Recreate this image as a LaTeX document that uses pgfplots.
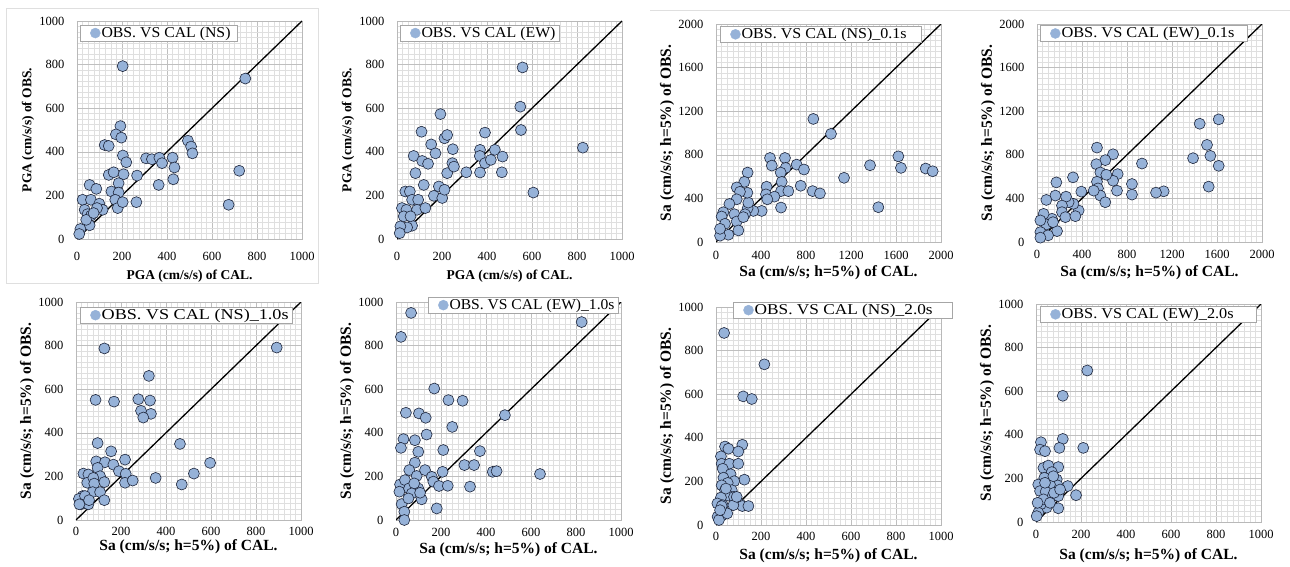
\documentclass[border=0pt]{standalone}
\usepackage{fontspec}
\setmainfont{Liberation Serif}
\usepackage{graphicx}
\usepackage{pgfplots}
\pgfplotsset{compat=1.18}
\definecolor{mfill}{RGB}{150,178,216}
\definecolor{medge}{RGB}{30,38,60}
\newcommand{\lgent}[3]{\makebox[#1][l]{\resizebox{#2}{\height}{#3}}}
\pgfplotsset{
 panel/.style={
  scale only axis, width=225pt, height=218pt, anchor=south west,
  xmin=0, ymin=0,
  grid=both,
  major grid style={draw=gray!50, line width=0.5pt},
  minor grid style={draw=gray!25, line width=0.4pt},
  minor tick num=7,
  major tick length=0pt, minor tick length=0pt,
  axis line style={draw=gray!55, line width=0.5pt},
  tick label style={font=\fontsize{12.5}{13}\selectfont},
  /pgf/number format/assume math mode=true,
  /pgf/number format/1000 sep={},
  yticklabel style={xshift=-9pt},
  y label style={at={(axis description cs:-0.218,0.5)}, anchor=center},
  legend style={draw=gray!70, fill=white, font=\fontsize{15}{16}\selectfont,
    anchor=north west, inner xsep=3pt, inner ysep=0.5pt, legend cell align=left,
    nodes={inner xsep=1pt, inner ysep=1.5pt}},
  legend image code/.code={\path (-12pt,0pt) (5pt,0pt); \fill[mfill] (0pt,0pt) circle (5pt);},
 },
 off/.style 2 args={xticklabel style={yshift=#1},
   x label style={at={(axis description cs:0.5,0)}, anchor=center, yshift=#2}},
 pga/.style={label style={font=\bfseries\fontsize{13.5}{15}\selectfont}},
 sa/.style={label style={font=\bfseries\fontsize{15.5}{17}\selectfont}},
 pts/.style={only marks, mark=*, mark size=5.5pt, mark options={fill=mfill, draw=medge, line width=0.6pt}},
 diag/.style={black, line width=1.3pt, no marks, forget plot},
 k1/.style={xmax=1000, ymax=1000, xtick={0,200,...,1000}, ytick={0,200,...,1000}},
 k2/.style={xmax=2000, ymax=2000, xtick={0,400,...,2000}, ytick={0,400,...,2000}},
}
\begin{document}
\begin{tikzpicture}
\useasboundingbox (0pt,0pt) rectangle (1290pt,566pt);
\fill[white] (0pt,0pt) rectangle (1290pt,566pt);
\draw[gray!25, line width=0.8pt] (6pt,283pt) rectangle (318pt,558pt);
\draw[gray!25, line width=0.8pt] (650pt,556pt) -- (1290pt,556pt);

% Panel 1
\begin{axis}[panel, pga, k1, off={-10pt}{-37pt}, at={(77pt,327pt)},
  xlabel={PGA (cm/s/s) of CAL.}, ylabel={PGA (cm/s/s) of OBS.},
  legend style={at={(axis description cs:0.013,0.982)}}]
\addplot[diag] coordinates {(0,0) (1000,1000)};
\addplot[pts] coordinates {
(203,793) (748,736) (193,518) (173,480) (197,465) (123,431) (141,427) (204,383)
(219,352) (141,294) (163,306) (207,297) (185,256) (153,218) (185,213) (170,180)
(181,142) (203,169) (267,291) (264,169) (307,370) (333,366) (366,373) (378,348)
(363,248) (425,373) (433,328) (428,274) (493,451) (507,424) (513,393) (674,157)
(721,313) (56,248) (86,230) (25,180) (62,180) (99,162) (114,134) (34,134)
(47,114) (62,107) (56,63) (15,46) (10,23) (89,142) (41,88) (74,119)};
\addlegendentry{\lgent{132pt}{129pt}{OBS. VS CAL (NS)}}
\end{axis}

% Panel 2
\begin{axis}[panel, pga, k1, off={-10pt}{-37pt}, at={(397pt,327pt)},
  xlabel={PGA (cm/s/s) of CAL.}, ylabel={PGA (cm/s/s) of OBS.},
  legend style={at={(axis description cs:0.013,0.982)}}]
\addplot[diag] coordinates {(0,0) (1000,1000)};
\addplot[pts] coordinates {
(558,787) (548,607) (551,500) (193,573) (109,492) (391,488) (826,419) (152,434)
(171,393) (248,412) (211,462) (223,477) (74,381) (112,358) (138,345) (82,302)
(119,248) (186,241) (164,198) (201,188) (211,226) (223,302) (246,348) (253,332)
(308,306) (369,409) (369,305) (368,381) (391,348) (417,363) (435,409) (469,378)
(466,306) (606,213) (37,218) (57,218) (22,142) (42,134) (67,180) (94,180)
(89,134) (126,142) (30,104) (67,61) (45,53) (15,58) (12,27) (60,104)};
\addlegendentry{\lgent{134pt}{134pt}{OBS. VS CAL (EW)}}
\end{axis}

% Panel 3
\begin{axis}[panel, sa, k2, off={-6pt}{-31pt}, at={(716pt,324pt)},
  xlabel={Sa (cm/s/s; h=5\%) of CAL.}, ylabel={Sa (cm/s/s; h=5\%) of OBS.},
  legend style={at={(axis description cs:0.018,0.99)}}]
\addplot[diag] coordinates {(0,0) (2000,2000)};
\addplot[pts] coordinates {
(865,1129) (1022,992) (480,771) (613,771) (496,701) (619,680) (717,710) (782,665)
(575,637) (584,552) (578,467) (643,467) (753,516) (859,467) (924,446) (1138,589)
(1369,704) (1621,786) (1644,680) (1864,674) (1926,649) (1443,319) (578,316) (450,507)
(444,437) (519,416) (456,392) (406,285) (332,285) (281,310) (287,361) (258,255)
(281,637) (252,552) (279,452) (184,501) (213,461) (184,392) (119,349) (163,255)
(65,273) (50,234) (80,167) (184,188) (199,106) (110,67) (36,58) (36,121) (243,228)};
\addlegendentry{\lgent{176pt}{165pt}{OBS. VS CAL (NS)\_0.1s}}
\end{axis}

% Panel 4
\begin{axis}[panel, sa, k2, off={-5pt}{-31pt}, at={(1037pt,324pt)},
  xlabel={Sa (cm/s/s; h=5\%) of CAL.}, ylabel={Sa (cm/s/s; h=5\%) of OBS.},
  legend style={at={(axis description cs:0.013,0.994)}}]
\addplot[diag] coordinates {(0,0) (2000,2000)};
\addplot[pts] coordinates {
(1615,1125) (1446,1085) (1511,891) (1541,790) (1387,769) (1615,699) (1526,508) (1126,465)
(1058,453) (933,720) (844,532) (844,435) (717,623) (711,471) (676,562) (676,805)
(607,751) (533,866) (527,714) (563,638) (616,617) (533,553) (542,492) (563,426)
(607,365) (504,471) (394,462) (320,593) (370,289) (324,350) (281,365) (258,416)
(172,547) (163,426) (83,386) (222,334) (222,274) (252,228) (133,213) (178,100)
(59,258) (83,161) (30,91) (98,61) (30,40) (30,198) (341,237) (142,182)};
\addlegendentry{\lgent{182pt}{173pt}{OBS. VS CAL (EW)\_0.1s}}
\end{axis}

% Panel 5
\begin{axis}[panel, sa, k1, off={-4pt}{-27pt}, at={(76pt,46pt)},
  xlabel={Sa (cm/s/s; h=5\%) of CAL.}, ylabel={Sa (cm/s/s; h=5\%) of OBS.},
  legend style={at={(axis description cs:0.018,0.977)}}]
\addplot[diag] coordinates {(0,0) (1000,1000)};
\addplot[pts] coordinates {
(126,787) (892,791) (324,661) (87,551) (169,543) (277,554) (329,548) (289,501)
(333,487) (299,470) (96,353) (156,315) (462,349) (90,269) (129,265) (96,239)
(218,277) (166,254) (191,224) (221,212) (218,171) (252,181) (354,193) (470,163)
(524,213) (596,262) (33,213) (55,209) (50,171) (107,201) (77,193) (81,167)
(126,174) (74,128) (107,128) (30,110) (13,97) (40,110) (22,72) (55,72)
(58,91) (126,91) (15,72)};
\addlegendentry{\lgent{187pt}{187pt}{OBS. VS CAL (NS)\_1.0s}}
\end{axis}

% Panel 6
\begin{axis}[panel, sa, k1, off={-5pt}{-30pt}, at={(396pt,46pt)},
  xlabel={Sa (cm/s/s; h=5\%) of CAL.}, ylabel={Sa (cm/s/s; h=5\%) of OBS.},
  legend style={at={(axis description cs:0.142,1.023)}}]
\addplot[diag] coordinates {(0,0) (1000,1000)};
\addplot[pts] coordinates {
(67,950) (22,840) (825,908) (170,603) (233,550) (296,547) (484,481) (44,492)
(102,489) (132,469) (250,427) (136,392) (33,371) (84,366) (22,331) (99,313)
(210,321) (373,316) (304,252) (347,252) (430,221) (447,224) (640,211) (207,221)
(84,263) (59,229) (92,202) (129,229) (159,198) (166,176) (191,156) (230,157)
(329,153) (181,53) (18,163) (40,183) (15,130) (58,145) (99,145) (81,168)
(25,73) (114,95) (37,38) (37,0) (70,122) (107,125) (55,99)};
\addlegendentry{\lgent{165pt}{165pt}{OBS. VS CAL (EW)\_1.0s}}
\end{axis}

% Panel 7
\begin{axis}[panel, sa, k1, off={-4pt}{-31pt}, at={(716pt,41pt)},
  xlabel={Sa (cm/s/s; h=5\%) of CAL.}, ylabel={Sa (cm/s/s; h=5\%) of OBS.},
  legend style={at={(axis description cs:0.076,1.023)}}]
\addplot[diag] coordinates {(0,0) (1000,1000)};
\addplot[pts] coordinates {
(36,881) (215,737) (121,590) (159,578) (40,360) (55,350) (117,368) (99,337)
(22,315) (25,281) (59,281) (99,281) (30,258) (65,233) (33,217) (126,208)
(81,201) (52,193) (25,182) (40,160) (70,160) (55,135) (80,129) (107,96)
(22,126) (6,99) (30,91) (117,87) (144,87) (77,91) (25,43) (7,38)
(50,53) (25,87) (13,23) (18,68) (92,129) (44,167)};
\addlegendentry{\lgent{193pt}{178pt}{OBS. VS CAL (NS)\_2.0s}}
\end{axis}

% Panel 8
\begin{axis}[panel, sa, k1, off={-5pt}{-34pt}, at={(1036pt,44pt)},
  xlabel={Sa (cm/s/s; h=5\%) of CAL.}, ylabel={Sa (cm/s/s; h=5\%) of OBS.},
  legend style={at={(axis description cs:0.018,0.99)}}]
\addplot[diag] coordinates {(0,0) (1000,1000)};
\addplot[pts] coordinates {
(228,695) (119,579) (119,381) (104,340) (210,340) (22,366) (18,332) (40,325)
(99,252) (33,248) (55,259) (70,229) (37,203) (92,195) (141,165) (178,123)
(96,168) (62,172) (10,172) (18,142) (43,139) (74,119) (99,119) (99,63)
(47,66) (21,81) (33,104) (10,43) (3,27) (62,88) (80,134) (107,149)
(40,180) (7,88) (77,210)};
\addlegendentry{\lgent{191pt}{172pt}{OBS. VS CAL (EW)\_2.0s}}
\end{axis}
\end{tikzpicture}
\end{document}
